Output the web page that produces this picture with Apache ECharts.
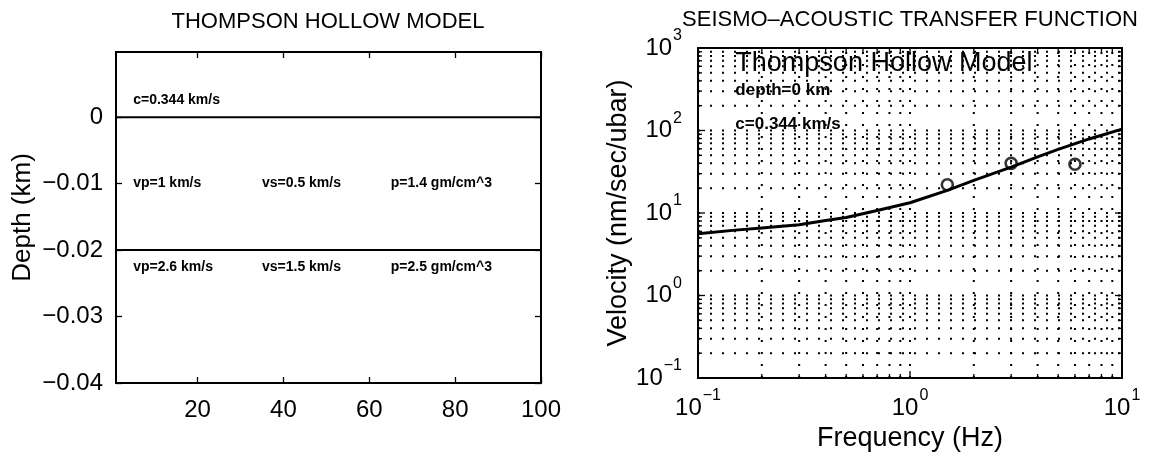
<!DOCTYPE html>
<html>
<head>
<meta charset="utf-8">
<script src="https://cdn.jsdelivr.net/npm/echarts@6/dist/echarts.min.js"></script>
<style>
  html, body { margin: 0; padding: 0; background: #fff; }
  #chart { width: 1149px; height: 457px; }
</style>
</head>
<body>
<div id="chart"></div>
<script>
// ---- Layered model (left panel) ----
const modelXRange = [1, 100];
const modelXTicks = [20, 40, 60, 80, 100];
const depthRange = [-0.04, 0.0098];
const depthTicks = [-0.04, -0.03, -0.02, -0.01, 0];
const interfaceDepths = [0, -0.02];
const modelTexts = ['c=0.344 km/s', 'vp=1 km/s', 'vs=0.5 km/s', 'p=1.4 gm/cm^3',
                    'vp=2.6 km/s', 'vs=1.5 km/s', 'p=2.5 gm/cm^3'];
const modelTextX = [5, 5, 35, 65, 5, 35, 65];
const modelTextDepth = [0.0025, -0.01, -0.01, -0.01, -0.0225, -0.0225, -0.0225];

// ---- Seismo-acoustic transfer function (right panel) ----
const freqRange = [0.1, 10];
const velRange = [0.1, 1000];
const freqHz   = [0.1, 0.15, 0.2, 0.3, 0.4, 0.5, 0.7, 1, 1.5, 2, 3, 4, 5, 7, 10];
const velocity = [5.6, 6.2, 6.6, 7.2, 8.1, 8.8, 10.7, 13.3, 18.8, 24.8, 36, 48, 59, 79, 104];
const obsFreqHz = [1.5, 3, 6];
const obsVelocity = [22, 40, 39];
const tfTexts = ['Thompson Hollow Model', 'depth=0 km', 'c=0.344 km/s'];
const tfTextFreq = [0.15, 0.15, 0.15];
const tfTextVel = [650, 310, 120];
const minorSteps = [1, 2, 3, 4, 5, 6, 7, 8, 9];

const FONT = 'Liberation Sans, Arial, Helvetica, sans-serif';

function logLines(lo, hi) {
  const out = [];
  for (let d = lo; d < hi * 0.999; d *= 10) {
    minorSteps.forEach(m => out.push(m * d));
  }
  out.push(hi);
  return out;
}
function isDecade(v) {
  const l = Math.log10(v);
  return Math.abs(l - Math.round(l)) < 1e-6;
}
const freqLines = logLines(freqRange[0], freqRange[1]);
const velLines = logLines(velRange[0], velRange[1]);

const GRID_DOT = { stroke: '#000', lineWidth: 2, lineDash: [2, 10] };
const TICK = { stroke: '#000', lineWidth: 1.3 };

// dotted horizontal grid line + inside ticks on left/right frame
function hGridItem(params, api) {
  const v = api.value(1);
  const a = api.coord([freqRange[0], v]);
  const b = api.coord([freqRange[1], v]);
  const t = isDecade(v) ? 7 : 4;
  const children = [];
  if (v > velRange[0] * 1.001 && v < velRange[1] * 0.999) {
    children.push({ type: 'line', shape: { x1: a[0], y1: a[1], x2: b[0], y2: b[1] }, style: GRID_DOT });
  }
  children.push({ type: 'line', shape: { x1: a[0], y1: a[1], x2: a[0] + t, y2: a[1] }, style: TICK });
  children.push({ type: 'line', shape: { x1: b[0] - t, y1: b[1], x2: b[0], y2: b[1] }, style: TICK });
  return { type: 'group', children };
}
// dotted vertical grid line + inside ticks on bottom/top frame
function vGridItem(params, api) {
  const f = api.value(0);
  const a = api.coord([f, velRange[0]]);
  const b = api.coord([f, velRange[1]]);
  const t = isDecade(f) ? 7 : 4;
  const children = [];
  if (f > freqRange[0] * 1.001 && f < freqRange[1] * 0.999) {
    children.push({ type: 'line', shape: { x1: a[0], y1: a[1], x2: b[0], y2: b[1] }, style: GRID_DOT });
  }
  children.push({ type: 'line', shape: { x1: a[0], y1: a[1], x2: a[0], y2: a[1] - t }, style: TICK });
  children.push({ type: 'line', shape: { x1: b[0], y1: b[1], x2: b[0], y2: b[1] + t }, style: TICK });
  return { type: 'group', children };
}

function textItem(texts, fonts) {
  return function (params, api) {
    const p = api.coord([api.value(0), api.value(1)]);
    const i = params.dataIndex;
    return {
      type: 'text',
      x: p[0], y: p[1],
      style: {
        text: texts[i], fill: '#000', font: fonts(i),
        align: 'left', verticalAlign: 'middle'
      }
    };
  };
}

function powLabel(v) {
  const e = Math.round(Math.log10(v));
  const s = e < 0 ? '\u2212' + (-e) : String(e);
  return '{m|10}{s|' + s + '}';
}
const powRich = {
  m: { fontSize: 24, fontFamily: FONT, color: '#000', padding: [8, 0, 8, 0] },
  s: { fontSize: 16, fontFamily: FONT, color: '#000', verticalAlign: 'top', padding: [0, 0, 0, 1] }
};
function depthLabel(v) {
  if (Math.abs(v) < 1e-12) return '0';
  return (v < 0 ? '\u2212' : '') + Math.abs(v).toFixed(2);
}

const chart = echarts.init(document.getElementById('chart'), null, { renderer: 'canvas' });

const tickStyle = { color: '#000', width: 1.3 };

const option = {
  backgroundColor: '#fff',
  animation: false,
  title: [
    { text: 'THOMPSON HOLLOW MODEL', left: 328, top: 11, textAlign: 'center', padding: 0,
      textStyle: { fontFamily: FONT, fontSize: 22, fontWeight: 'normal', color: '#000' } },
    { text: 'SEISMO\u2013ACOUSTIC TRANSFER FUNCTION', left: 910, top: 9, textAlign: 'center', padding: 0,
      textStyle: { fontFamily: FONT, fontSize: 22, fontWeight: 'normal', color: '#000' } }
  ],
  grid: [
    { left: 116, right: 608, top: 52, bottom: 74, show: true, borderColor: '#000', borderWidth: 2, backgroundColor: 'transparent' },
    { left: 698, right: 27, top: 48, bottom: 75, show: true, borderColor: '#000', borderWidth: 2, backgroundColor: 'transparent' }
  ],
  xAxis: [
    { gridIndex: 0, type: 'value', position: 'bottom', min: modelXRange[0], max: modelXRange[1],
      axisLine: { show: false, onZero: false }, splitLine: { show: false },
      axisTick: { inside: true, length: 6, customValues: modelXTicks, lineStyle: tickStyle },
      axisLabel: { customValues: modelXTicks, fontFamily: FONT, fontSize: 24, color: '#000', margin: 15 } },
    { gridIndex: 0, type: 'value', position: 'top', min: modelXRange[0], max: modelXRange[1],
      axisLine: { show: false, onZero: false }, splitLine: { show: false },
      axisTick: { inside: true, length: 6, customValues: modelXTicks, lineStyle: tickStyle },
      axisLabel: { show: false } },
    { gridIndex: 1, type: 'log', logBase: 10, min: freqRange[0], max: freqRange[1],
      axisLine: { show: false, onZero: false }, splitLine: { show: false }, axisTick: { show: false },
      axisLabel: { formatter: powLabel, rich: powRich, margin: 10 },
      name: 'Frequency (Hz)', nameLocation: 'middle', nameGap: 47,
      nameTextStyle: { fontFamily: FONT, fontSize: 27, color: '#000' } }
  ],
  yAxis: [
    { gridIndex: 0, type: 'value', position: 'left', min: depthRange[0], max: depthRange[1],
      axisLine: { show: false, onZero: false }, splitLine: { show: false },
      axisTick: { inside: true, length: 6, customValues: depthTicks, lineStyle: tickStyle },
      axisLabel: { customValues: depthTicks, formatter: depthLabel, fontFamily: FONT, fontSize: 24, color: '#000', margin: 13 },
      name: 'Depth (km)', nameLocation: 'middle', nameGap: 80,
      nameTextStyle: { fontFamily: FONT, fontSize: 26, color: '#000' } },
    { gridIndex: 0, type: 'value', position: 'right', min: depthRange[0], max: depthRange[1],
      axisLine: { show: false, onZero: false }, splitLine: { show: false },
      axisTick: { inside: true, length: 6, customValues: depthTicks, lineStyle: tickStyle },
      axisLabel: { show: false } },
    { gridIndex: 1, type: 'log', logBase: 10, min: velRange[0], max: velRange[1],
      axisLine: { show: false, onZero: false }, splitLine: { show: false }, axisTick: { show: false },
      axisLabel: { formatter: powLabel, rich: powRich, margin: 16 },
      name: 'Velocity (nm/sec/ubar)', nameLocation: 'middle', nameGap: 63,
      nameTextStyle: { fontFamily: FONT, fontSize: 27, color: '#000' } }
  ],
  series: [
    // layer interfaces
    ...interfaceDepths.map(d => ({
      type: 'line', xAxisIndex: 0, yAxisIndex: 0, symbol: 'none', silent: true,
      data: [[modelXRange[0], d], [modelXRange[1], d]],
      lineStyle: { color: '#000', width: 2 }
    })),
    // layer property annotations
    { type: 'custom', xAxisIndex: 0, yAxisIndex: 0, silent: true,
      data: modelTextX.map((x, i) => [x, modelTextDepth[i]]),
      renderItem: textItem(modelTexts, () => 'bold 14px ' + FONT) },
    // annotations inside the transfer-function panel
    { type: 'custom', xAxisIndex: 2, yAxisIndex: 2, silent: true, z: 1,
      data: tfTextFreq.map((f, i) => [f, tfTextVel[i]]),
      renderItem: textItem(tfTexts, i => (i === 0 ? 'normal 27px ' : 'bold 17px ') + FONT) },
    // log grid (dotted) with inside ticks
    { type: 'custom', xAxisIndex: 2, yAxisIndex: 2, silent: true, z: 2,
      data: velLines.map(v => [freqRange[0], v]), renderItem: hGridItem },
    { type: 'custom', xAxisIndex: 2, yAxisIndex: 2, silent: true, z: 2,
      data: freqLines.map(f => [f, velRange[0]]), renderItem: vGridItem },
    // modelled transfer function
    { type: 'line', xAxisIndex: 2, yAxisIndex: 2, symbol: 'none', silent: true, z: 3,
      data: freqHz.map((f, i) => [f, velocity[i]]),
      lineStyle: { color: '#000', width: 3 } },
    // observed ratios
    { type: 'scatter', xAxisIndex: 2, yAxisIndex: 2, silent: true, z: 4,
      data: obsFreqHz.map((f, i) => [f, obsVelocity[i]]),
      symbol: 'circle', symbolSize: 11,
      itemStyle: { color: 'rgba(255,255,255,0)', borderColor: '#000', borderWidth: 2.6 } }
  ]
};

chart.setOption(option);
</script>
</body>
</html>
